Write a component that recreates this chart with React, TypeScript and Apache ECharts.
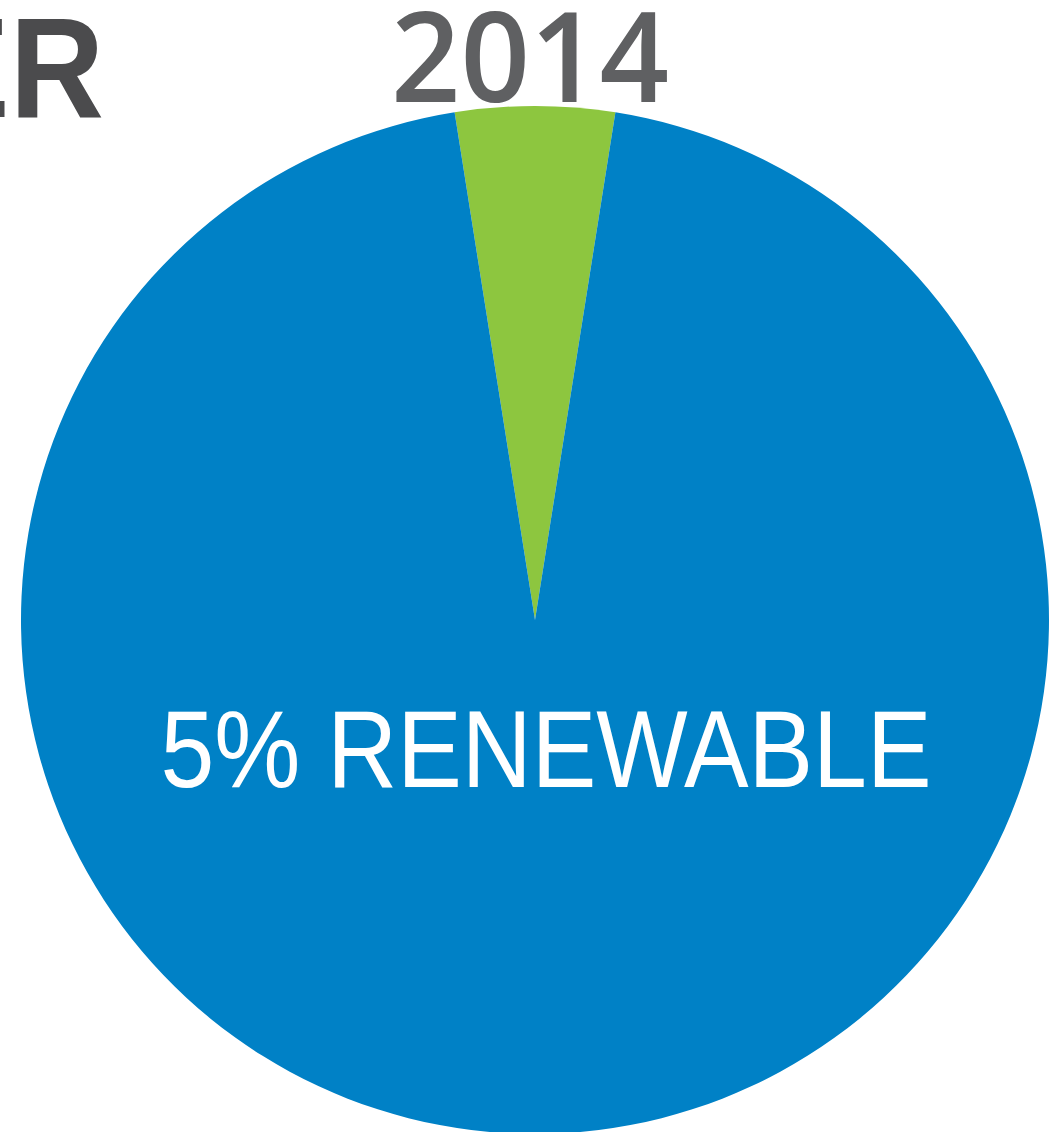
import React, { useEffect, useRef } from "react";
import * as echarts from "echarts";

const categories = ["Renewable", "Other"];
const shares = [5, 95];
const sliceColors = ["#8dc63f", "#0081c6"];
const yearLabel = "2014";
const cornerText = "ER";

export default function App() {
  const ref = useRef<HTMLDivElement>(null);
  useEffect(() => {
    if (!ref.current) return;
    const chart = echarts.init(ref.current, undefined, { renderer: "svg" });
    const renewable = shares[0];
    chart.setOption({
      animation: false,
      backgroundColor: "#ffffff",
      series: [
        {
          type: "pie",
          center: [535, 620],
          radius: 514,
          startAngle: 90 + (shares[0] / (shares[0] + shares[1])) * 180,
          clockwise: true,
          label: { show: false },
          labelLine: { show: false },
          silent: true,
          itemStyle: { borderWidth: 0 },
          data: categories.map((c, i) => ({
            name: c,
            value: shares[i],
            itemStyle: { color: sliceColors[i] },
          })),
        },
      ],
      graphic: [
        {
          type: "text",
          x: 530,
          y: 53,
          z: 100,
          scaleX: 0.95,
          scaleY: 0.98,
          style: {
            text: yearLabel,
            fill: "#5f6062",
            fontFamily: "Open Sans",
            fontWeight: 600,
            fontSize: 128,
            align: "center",
            verticalAlign: "middle",
          },
        },
        {
          type: "text",
          x: 104,
          y: 68,
          z: 100,
          scaleX: 0.92,
          style: {
            text: cornerText,
            fill: "#4b4b4d",
            fontFamily: "Liberation Sans",
            fontWeight: "bold",
            fontSize: 142,
            align: "right",
            verticalAlign: "middle",
          },
        },
        {
          type: "text",
          x: 546,
          y: 749,
          z: 100,
          scaleX: 0.88,
          style: {
            text: `${renewable}% RENEWABLE`,
            fill: "#ffffff",
            fontFamily: "Liberation Sans",
            fontSize: 110,
            align: "center",
            verticalAlign: "middle",
          },
        },
      ],
    });
    return () => chart.dispose();
  }, []);
  return (
    <div
      ref={ref}
      style={{ position: "absolute", left: 0, top: 0, width: 1056, height: 1132 }}
    />
  );
}
